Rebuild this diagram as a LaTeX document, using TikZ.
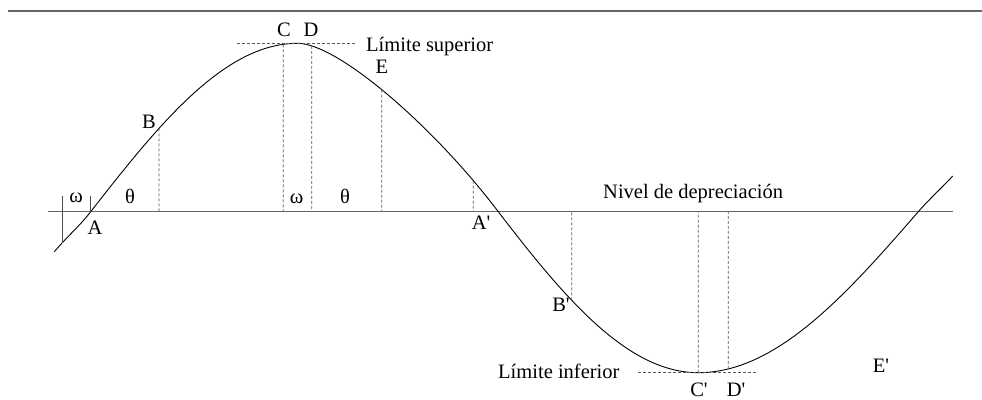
\documentclass[tikz,border=0pt]{standalone}
\usepackage{fontspec}
\setmainfont{Liberation Serif}
\usetikzlibrary{intersections}
\begin{document}
\begin{tikzpicture}[x=1pt,y=-1pt,
  lbl/.style={inner sep=0pt,anchor=base,font=\fontsize{20.5}{24}\selectfont},
  lblw/.style={lbl,anchor=base west},
  rule/.style={draw=black!60,line width=1.3pt},
  curveline/.style={draw=black,line width=0.9pt},
  guide/.style={draw=black!65,line width=0.8pt,dash pattern=on 3pt off 2pt},
  tick/.style={draw=black!70,line width=0.8pt}]
\useasboundingbox (0,0) rectangle (982,399);
% top rule and axis
\coordinate (r1) at (8,11);
\coordinate (r2) at (982,11);
\draw[rule] (r1) -- (r2);
\coordinate (ax1) at (48,211.7);
\coordinate (ax2) at (952.7,211.7);
\draw[rule,line width=1.5pt] (ax1) -- (ax2);
% curve
\coordinate (s0) at (54.3,251.7);
\coordinate (A) at (90.7,211.7);
\coordinate (P) at (297.5,43.3);
\coordinate (Ap) at (498.3,211.7);
\coordinate (T) at (698.3,372.7);
\coordinate (X) at (918.3,211.7);
\coordinate (s9) at (952.7,176);
\draw[curveline,name path=curve] (s0) .. controls (70,233.5) and (78.6,227.2) .. (A)
  .. controls (158.1,125.4) and (223.7,43.3) .. (P)
  .. controls (337.5,43.3) and (432.8,125.4) .. (Ap)
  .. controls (563.5,296.7) and (626.9,372.7) .. (T)
  .. controls (776.8,372.7) and (846.6,294.2) .. (X)
  .. controls (929.8,198.5) and (941.2,188.5) .. (s9);
% limits
\coordinate (ls1) at (236.7,43.3);
\coordinate (ls2) at (355,43.3);
\draw[guide] (ls1) -- (ls2);
\coordinate (li1) at (638.3,372.7);
\coordinate (li2) at (756.7,372.7);
\draw[guide] (li1) -- (li2);
% vertical guides via intersections
\foreach \nm/\xx in {B/159,C/283.3,D/311.7,E/381.7,Aq/473.3,Bq/571.7,Cq/698.3,Dq/728.3}{
  \path[name path=v\nm] (\xx,0) -- (\xx,399);
  \path[name intersections={of=curve and v\nm}] (intersection-1) coordinate (p\nm);
  \coordinate (q\nm) at (\xx,211.7);
  \draw[guide] (p\nm) -- (q\nm);
}
% omega marks at A
\coordinate (w1) at (62.3,196);
\coordinate (w2) at (62.3,243.3);
\coordinate (w3) at (90,196);
\coordinate (w4) at (90,211.7);
\draw[tick] (w1) -- (w2);
\draw[tick] (w3) -- (w4);
% labels
\node[lbl] (lw1) at (76,202) {ω};
\node[lbl] (lt1) at (130,203) {θ};
\node[lbl] (lA) at (95,234.5) {A};
\node[lbl] (lB) at (149,128.5) {B};
\node[lbl] (lC) at (284,36.5) {C};
\node[lbl] (lD) at (311,36.5) {D};
\node[lblw] (lsup) at (366,51) {Límite superior};
\node[lbl] (lE) at (382,73.5) {E};
\node[lbl] (lw2) at (296.7,203) {ω};
\node[lbl] (lt2) at (345,203) {θ};
\node[lbl] (lAp) at (481,229.3) {A\textquotesingle};
\node[lblw] (lniv) at (603,198.5) {Nivel de depreciación};
\node[lbl] (lBp) at (561,311.7) {B\textquotesingle};
\node[lblw] (linf) at (498,378.3) {Límite inferior};
\node[lbl] (lCp) at (699,396) {C\textquotesingle};
\node[lbl] (lDp) at (736,396) {D\textquotesingle};
\node[lbl] (lEp) at (881,372.5) {E\textquotesingle};
\end{tikzpicture}
\end{document}
